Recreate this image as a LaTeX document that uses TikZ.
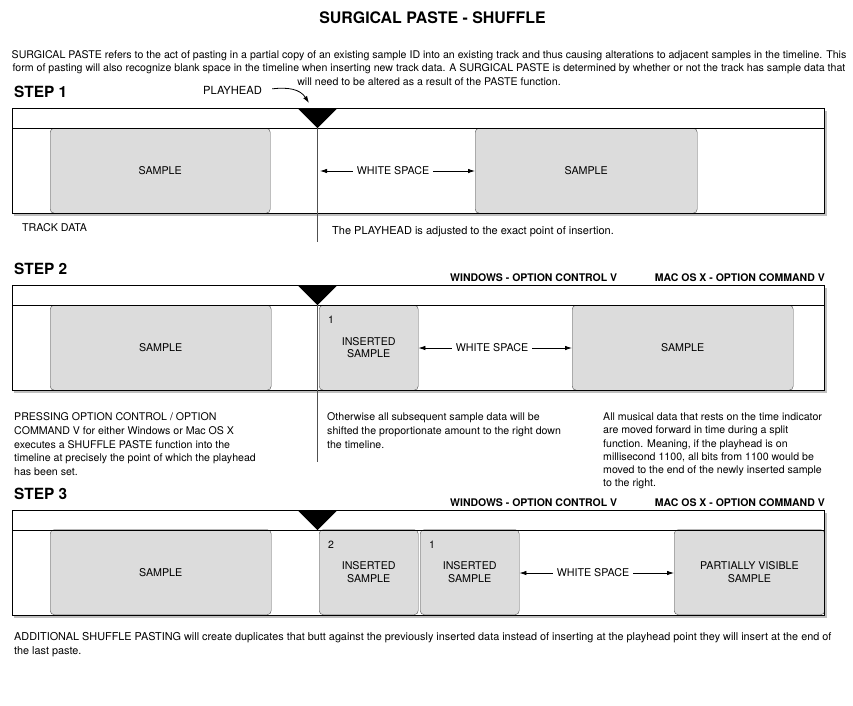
\documentclass[tikz,border=0pt]{standalone}
\usepackage{fontspec}
\setmainfont{TeX Gyre Heros}
\usetikzlibrary{arrows.meta, shadows, positioning}

\definecolor{samplegray}{RGB}{220,220,220}
\definecolor{edgegray}{RGB}{80,80,80}

\begin{document}
\begin{tikzpicture}[x=1pt, y=-1pt,
		txt/.style={font=\fontsize{10.6}{13.7}\selectfont, inner sep=0pt, align=left, anchor=north west},
		head/.style={font=\bfseries\fontsize{15.4}{17}\selectfont, inner sep=0pt, anchor=west},
		keys/.style={font=\bfseries\fontsize{10.5}{12}\selectfont, inner sep=0pt},
		sample/.style={draw=edgegray, fill=samplegray, rounded corners=4pt, anchor=north west, minimum height=85pt, align=center, font=\fontsize{10.7}{12.5}\selectfont, inner sep=0pt},
		num/.style={font=\fontsize{10.5}{12}\selectfont, inner sep=0pt},
		ws/.style={font=\fontsize{10.7}{12}\selectfont, inner sep=4pt},
		wsarrow/.style={-{Latex[length=7pt, width=4.5pt]}, line width=0.8pt},
		phline/.style={draw=edgegray, line width=0.9pt}]
	\useasboundingbox (0,0) rectangle (853,705);

	\node[font=\bfseries\fontsize{15.9}{18}\selectfont, inner sep=0pt] (title) at (432.5,18) {SURGICAL PASTE - SHUFFLE};
	\node[txt, align=center, anchor=north] (intro) at (429,50) {SURGICAL PASTE refers to the act of pasting in a partial copy of an existing sample ID into an existing track and thus causing alterations to adjacent samples in the timeline. This\\
		form of pasting will also recognize blank space in the timeline when inserting new track data. A SURGICAL PASTE is determined by whether or not the track has sample data that\\
		will need to be altered as a result of the PASTE function.};

	% track frames
	\foreach \top/\n in {108/1, 285/2, 510/3} {
		\fill[white, drop shadow={shadow xshift=2pt, shadow yshift=-3pt, opacity=.5}] (12,\top) rectangle (824.5,\top+105);
		\node[head] (step\n) at (14,\top-16) {STEP \n};
	}

	% step 1
	\node[sample, minimum width=220pt] (s1a) at (50,128) {SAMPLE};
	\node[sample, minimum width=222pt] (s1b) at (475,128) {SAMPLE};
	\node[txt, font=\fontsize{11.2}{13}\selectfont, anchor=west] (phlabel) at (203,90) {PLAYHEAD};
	\node[txt, font=\fontsize{10.7}{13}\selectfont, anchor=west] (trackdata) at (22,228) {TRACK DATA};
	\node[txt, font=\fontsize{11}{13}\selectfont, anchor=west] (adjust) at (332,232) {The PLAYHEAD is adjusted to the exact point of insertion.};

	% step 2
	\node[keys, anchor=west] (win2) at (450,278) {WINDOWS - OPTION CONTROL V};
	\node[keys, anchor=east] (mac2) at (825,278) {MAC OS X - OPTION COMMAND V};
	\node[sample, minimum width=221pt] (s2a) at (50,305) {SAMPLE};
	\node[sample, minimum width=99pt] (i2a) at (319,305) {INSERTED\\SAMPLE};
	\node[num, below right=11pt and 9pt of i2a.north west] (n2a) {1};
	\node[sample, minimum width=221pt] (s2b) at (572,305) {SAMPLE};
	\node[txt] (press) at (14,412.5) {PRESSING OPTION CONTROL / OPTION\\
		COMMAND V for either Windows or Mac OS X\\
		executes a SHUFFLE PASTE function into the\\
		timeline at precisely the point of which the playhead\\
		has been set.};
	\node[txt] (shift) at (327,412.5) {Otherwise all subsequent sample data will be\\
		shifted the proportionate amount to the right down\\
		the timeline.};
	\node[txt, font=\fontsize{10.6}{13.3}\selectfont] (moved) at (603,412.5) {All musical data that rests on the time indicator\\
		are moved forward in time during a split\\
		function. Meaning, if the playhead is on\\
		millisecond 1100, all bits from 1100 would be\\
		moved to the end of the newly inserted sample\\
		to the right.};

	% step 3
	\node[keys, anchor=west] (win3) at (450,503) {WINDOWS - OPTION CONTROL V};
	\node[keys, anchor=east] (mac3) at (825,503) {MAC OS X - OPTION COMMAND V};
	\node[sample, minimum width=221pt] (s3a) at (50,529.5) {SAMPLE};
	\node[sample, minimum width=99pt] (i3b) at (319,529.5) {INSERTED\\SAMPLE};
	\node[num, below right=11pt and 9pt of i3b.north west] (n3b) {2};
	\node[sample, minimum width=99pt] (i3a) at (420,529.5) {INSERTED\\SAMPLE};
	\node[num, below right=11pt and 9pt of i3a.north west] (n3a) {1};
	\node[sample, minimum width=150.5pt] (s3b) at (674,529.5) {PARTIALLY VISIBLE\\SAMPLE};
	\node[txt, font=\fontsize{10.85}{14.5}\selectfont] (additional) at (14,632) {ADDITIONAL SHUFFLE PASTING will create duplicates that butt against the previously inserted data instead of inserting at the playhead point they will insert at the end of\\
		the last paste.};

	% frames, headers and playheads on top
	\foreach \top in {108, 285, 510} {
		\draw[line width=1pt] (12,\top) rectangle (824.5,\top+105);
		\draw[line width=0.9pt] (12,\top+20) -- (824.5,\top+20);
		\fill (297.5,\top) -- (337.5,\top) -- (317.5,\top+20) -- cycle;
	}
	\coordinate (ph1) at (317.5,128);
	\coordinate (ph1end) at (317.5,242);
	\coordinate (ph2) at (317.5,305);
	\coordinate (ph2end) at (317.5,462);
	\coordinate (phtip) at (309,103);
	\draw[phline] (ph1) -- (ph1end);
	\draw[phline] (ph2) -- (ph2end);
	\draw[wsarrow, shorten <=10pt] (phlabel.east) .. controls (288,87) and (300,89) .. (phtip);

	% white space arrows
	\node[ws] (ws1) at (393,171) {WHITE SPACE};
	\draw[wsarrow, shorten >=2.5pt] (ws1.west) -- (ph1 |- ws1.west);
	\draw[wsarrow] (ws1.east) -- (ws1.east -| s1b.west);
	\node[ws] (ws2) at (492,348) {WHITE SPACE};
	\draw[wsarrow] (ws2.west) -- (ws2.west -| i2a.east);
	\draw[wsarrow] (ws2.east) -- (ws2.east -| s2b.west);
	\node[ws] (ws3) at (593,573) {WHITE SPACE};
	\draw[wsarrow] (ws3.west) -- (ws3.west -| i3a.east);
	\draw[wsarrow] (ws3.east) -- (ws3.east -| s3b.west);
\end{tikzpicture}
\end{document}
